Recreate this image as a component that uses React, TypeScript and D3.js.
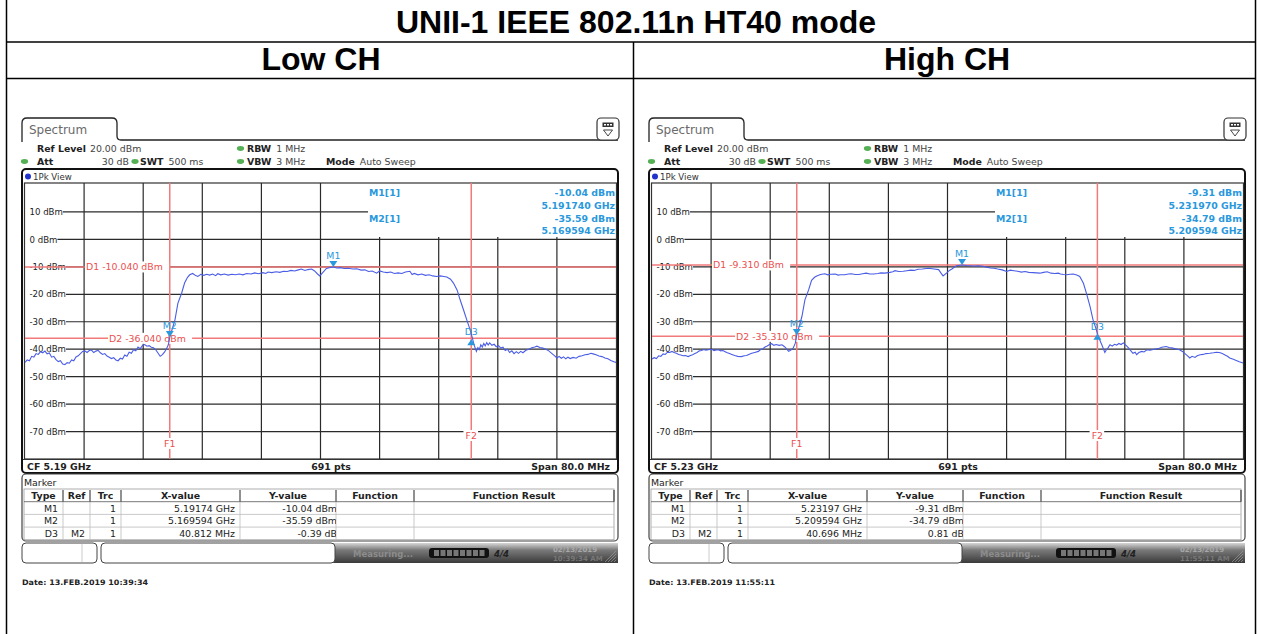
import React from 'react';
import * as d3 from 'd3';

const TITLE = 'UNII-1 IEEE 802.11n HT40 mode';
const CHANNEL_TITLES = ['Low CH', 'High CH'];
const LEVEL_TICKS = [10, 0, -10, -20, -30, -40, -50, -60, -70];
const FREQ_GRID = [8, 16, 24, 32, 40, 48, 56, 64, 72];
const TABLE_HEADERS = ['Type', 'Ref', 'Trc', 'X-value', 'Y-value', 'Function', 'Function Result'];

// trace: [MHz from start of span, level dBm]
const LOW_TRACE: [number, number][] = [
  [0, -44.8], [0.3, -43.9], [0.6, -44.2], [0.9, -42.6], [1.2, -42.9], [1.5, -41.6], [1.8, -41.9], [2.1, -40.9], [2.4, -41.3], [2.7, -40.7],
  [3, -41.7], [3.3, -41.4], [3.6, -42.9], [3.9, -42.6], [4.2, -43.8], [4.5, -44.5], [4.8, -44.2], [5.1, -45.4], [5.4, -45.6], [5.7, -44.9],
  [6, -45.1], [6.3, -43.9], [6.6, -44.2], [6.9, -42.8], [7.2, -42.4], [7.5, -41.6], [7.8, -40.8], [8.1, -40.6], [8.4, -41.2], [8.7, -40.5],
  [9, -40.3], [9.3, -41.2], [9.6, -40.7], [9.9, -40.4], [10.2, -41.3], [10.5, -41.9], [10.8, -41.6], [11.1, -42.5], [11.4, -42.9], [11.7, -43.4],
  [12, -43.1], [12.3, -43.9], [12.6, -44.2], [12.9, -43.3], [13.2, -43.6], [13.5, -42.1], [13.8, -42.6], [14.1, -41.1], [14.4, -41.5], [14.7, -40.2],
  [15, -40.6], [15.3, -39.2], [15.6, -39.8], [15.9, -38.6], [16.2, -38.3], [16.5, -38.9], [16.8, -38.7], [17.1, -39.3], [17.4, -39.5], [17.7, -40.2],
  [18, -41.4], [18.3, -42.6], [18.6, -42], [18.9, -41], [19.2, -39.6], [19.4, -38.4], [19.6, -35.6], [20, -32], [20.3, -29.3], [20.7, -23.2],
  [21.2, -19.6], [21.6, -15.9], [22.0, -13.8], [22.3, -12.9], [22.7, -12.4], [23.1, -13.2], [23.4, -13.5], [23.8, -12.7], [24.2, -13.1], [24.6, -12.7],
  [25, -13], [25.4, -12.6], [25.8, -13.2], [26.1, -12.5], [26.5, -12.9], [27, -12.6], [27.5, -13], [28, -12.7], [28.5, -12.9], [29, -12.6],
  [29.5, -12.9], [30, -12.4], [30.6, -12.6], [31.1, -12.2], [31.6, -12.5], [32.2, -12.1], [32.6, -12.4], [32.9, -11.9], [33.4, -12.1], [34, -11.8],
  [34.5, -12], [35, -11.6], [35.5, -11.7], [36, -11.3], [36.5, -11.5], [37, -11.1], [37.4, -10.8], [37.9, -11.3], [38.3, -11], [38.8, -10.8],
  [39.2, -11.5], [39.6, -12.6], [39.9, -13.3], [40.3, -12.1], [40.8, -10.6], [41.2, -10.3], [41.74, -10.04], [42.2, -10.4], [42.7, -10.3], [43.2, -10.6],
  [43.7, -10.5], [44.4, -10.8], [44.9, -10.7], [45.5, -11.2], [46, -11.1], [46.5, -11.7], [47, -11.5], [47.6, -12.3], [48, -11.5], [48.5, -11.9],
  [49, -12.1], [49.5, -11.9], [50, -12.4], [50.5, -12.2], [51, -12.4], [51.5, -11.9], [52.1, -11.6], [52.4, -12.8], [52.7, -12.4], [53.2, -12.9],
  [53.7, -12.6], [54.2, -13.1], [54.7, -12.9], [55.2, -13.3], [55.7, -13.5], [56.2, -13.3], [56.7, -13.5], [57.1, -13.7], [57.6, -14.5], [58, -15.9],
  [58.5, -18.5], [58.9, -22], [59.4, -26], [59.8, -29.3], [60.2, -32.5], [60.5, -35.3], [60.8, -38.5], [61.1, -40.8], [61.3, -39.4], [61.5, -40.1],
  [61.7, -38.4], [61.9, -39.2], [62.1, -37.9], [62.3, -38.8], [62.5, -37.6], [62.7, -38.5], [62.9, -37.7], [63.2, -38.6], [63.5, -38.2], [63.8, -39.1],
  [64.1, -38.7], [64.4, -39.6], [64.7, -39.3], [65, -40.5], [65.3, -40], [65.6, -41.2], [65.9, -40.6], [66.2, -41.6], [66.5, -40.9], [66.8, -41.5],
  [67.1, -40.8], [67.4, -41.3], [67.8, -40.4], [68.2, -40], [68.6, -39.5], [69, -39.2], [69.3, -38.9], [69.7, -39.4], [70.1, -39.6], [70.5, -40],
  [70.9, -40.6], [71.3, -41.5], [71.7, -42.4], [72, -43.2], [72.3, -42.6], [72.6, -43.3], [72.9, -42.8], [73.2, -43.5], [73.5, -42.9], [73.8, -43.4],
  [74.2, -43], [74.6, -43.3], [75, -42.6], [75.4, -42.4], [75.8, -42], [76.2, -41.9], [76.6, -41.5], [76.9, -41.7], [77.3, -42], [77.7, -42.5],
  [78.1, -42.7], [78.5, -43.2], [78.9, -43.5], [79.3, -44.1], [79.7, -44.6], [80, -44.8],
];

const HIGH_TRACE: [number, number][] = [
  [0, -43.6], [0.3, -43.1], [0.6, -43.4], [0.9, -42.4], [1.2, -42.6], [1.5, -41.7], [1.8, -41.9], [2.1, -41.1], [2.4, -41.2], [2.7, -40.8],
  [3, -41.2], [3.3, -41.5], [3.6, -41.9], [3.9, -42.1], [4.2, -42.4], [4.5, -42.3], [4.9, -42.7], [5.2, -42.3], [5.5, -42], [5.8, -41.6],
  [6.1, -41.2], [6.4, -40.6], [6.7, -40.5], [7, -40.1], [7.3, -40.4], [7.6, -40.2], [8.1, -40], [8.4, -40.5], [8.7, -40.3], [9, -40.2],
  [9.3, -40.6], [9.6, -40.5], [9.9, -40.9], [10.2, -41.3], [10.5, -41.6], [10.8, -41.9], [11.2, -42.3], [11.6, -42.6], [12.1, -42.7], [12.5, -42.4],
  [12.8, -42.3], [13.1, -41.9], [13.5, -41.5], [13.9, -41.2], [14.4, -40.8], [14.7, -40.1], [15, -39.8], [15.3, -39.2], [15.6, -38.8], [15.9, -38.3],
  [16.2, -38], [16.5, -38.6], [16.8, -38.3], [17.2, -38.6], [17.6, -38.4], [17.9, -39], [18.1, -39.5], [18.3, -40.2], [18.5, -40.8], [18.8, -40.3],
  [19.1, -39.6], [19.4, -37.8], [19.6, -34.8], [20, -31], [20.3, -28], [20.7, -22], [21.2, -18.4], [21.6, -14.9], [22, -13.8], [22.3, -13.3],
  [22.8, -12.8], [23.4, -12.5], [23.8, -12.9], [24.2, -12.7], [24.8, -12.6], [25.2, -13], [25.5, -12.9], [26.1, -12.9], [26.6, -12.6], [27, -12.5],
  [27.5, -12.8], [28, -12.8], [28.5, -12.5], [29, -12.3], [29.5, -12.6], [30, -12.6], [30.6, -12.4], [31, -12.2], [31.5, -12.3], [32.2, -12],
  [32.6, -11.8], [32.9, -11.4], [33.4, -11.7], [34, -11.6], [34.5, -11.4], [35, -11.2], [35.5, -11.3], [36, -10.9], [36.6, -10.8], [37.4, -10.5],
  [38.2, -10.8], [38.8, -11], [39.1, -12.2], [39.4, -13.3], [39.9, -12.2], [40.3, -11.2], [40.6, -10.8], [41.2, -9.6], [41.97, -9.31], [42.6, -9.5],
  [43.1, -9.6], [43.5, -9.7], [44.2, -9.6], [44.8, -9.8], [45.3, -10.1], [45.8, -10.4], [46.3, -10.5], [46.8, -10.8], [47.4, -11.1], [48, -11.7],
  [48.5, -11.2], [49, -11.4], [49.5, -11.6], [50, -11.9], [50.5, -11.7], [51, -12], [51.6, -12.1], [52.5, -12.3], [53, -12], [53.5, -11.8],
  [54, -12.3], [54.5, -12.4], [55, -12.3], [55.3, -12.6], [55.7, -12.8], [56.1, -12.9], [56.6, -12.7], [57, -12.6], [57.5, -13], [57.9, -13.5],
  [58.4, -16], [58.8, -19.6], [59.3, -24.5], [59.7, -29.3], [60.1, -32.5], [60.4, -35.3], [60.9, -38.5], [61.3, -41.2], [61.5, -40.2], [61.7, -39.6],
  [62, -38.4], [62.3, -38.9], [62.6, -38.2], [62.9, -38.5], [63.2, -37.9], [63.5, -38.3], [63.8, -37.7], [64.1, -38.4], [64.5, -39.5], [64.8, -40.5],
  [65.1, -41.5], [65.4, -41.1], [65.6, -42], [65.9, -41.2], [66.3, -40.8], [66.6, -41], [67, -40.2], [67.4, -40.4], [68, -40], [68.5, -39.8],
  [69, -39.3], [69.6, -39], [70, -39.4], [70.5, -39.6], [71, -39.9], [71.4, -40.2], [71.8, -40.8], [72.1, -41.5], [72.5, -42.4], [72.8, -43.2],
  [73.1, -42.6], [73.5, -43], [73.8, -42.4], [74.2, -42], [74.6, -41.9], [75, -41.6], [75.5, -41.5], [76, -41.3], [76.4, -41.1], [76.8, -41.2],
  [77.2, -41.6], [77.5, -42], [77.9, -42.6], [78.2, -43.2], [78.6, -43.6], [79, -44], [79.5, -44.6], [80, -45],
];

const LOW_M1: [number, number] = [41.74, -10.04];
const LOW_M2: [number, number] = [19.594, -35.59];
const LOW_D3: [number, number] = [60.406, -35.98];
const HIGH_M1: [number, number] = [41.97, -9.31];
const HIGH_M2: [number, number] = [19.594, -34.79];
const HIGH_D3: [number, number] = [60.29, -33.98];

const LOW_LINES = { d1: -10.04, d2: -36.04, f1: 19.594, f2: 60.406 };
const HIGH_LINES = { d1: -9.31, d2: -35.31, f1: 19.594, f2: 60.29 };

const LOW_INFO = ['-10.04 dBm', '5.191740 GHz', '-35.59 dBm', '5.169594 GHz'];
const HIGH_INFO = ['-9.31 dBm', '5.231970 GHz', '-34.79 dBm', '5.209594 GHz'];

const LOW_ROWS = [
  ['M1', '', '1', '5.19174 GHz', '-10.04 dBm'],
  ['M2', '', '1', '5.169594 GHz', '-35.59 dBm'],
  ['D3', 'M2', '1', '40.812 MHz', '-0.39 dB'],
];
const HIGH_ROWS = [
  ['M1', '', '1', '5.23197 GHz', '-9.31 dBm'],
  ['M2', '', '1', '5.209594 GHz', '-34.79 dBm'],
  ['D3', 'M2', '1', '40.696 MHz', '0.81 dB'],
];

const PANELS = [
  { dx: 0, trace: LOW_TRACE, m1: LOW_M1, m2: LOW_M2, d3: LOW_D3, lines: LOW_LINES, info: LOW_INFO, rows: LOW_ROWS,
    cf: 'CF 5.19 GHz', d1Text: 'D1  -10.040 dBm', d2Text: 'D2  -36.040 dBm', date: 'Date: 13.FEB.2019  10:39:34', time: '10:39:34 AM' },
  { dx: 627, trace: HIGH_TRACE, m1: HIGH_M1, m2: HIGH_M2, d3: HIGH_D3, lines: HIGH_LINES, info: HIGH_INFO, rows: HIGH_ROWS,
    cf: 'CF 5.23 GHz', d1Text: 'D1  -9.310 dBm', d2Text: 'D2  -35.310 dBm', date: 'Date: 13.FEB.2019  11:55:11', time: '11:55:11 AM' },
];

const SF = 'DejaVu Sans, Verdana, sans-serif';
const MBLUE = '#2a98dc';
const RED = '#f27a7a';
const RED_TEXT = '#ea4f4f';
const TRACE = '#4a5de6';
const GREEN = '#55b055';

const CW: Record<string, number> = { '0': .636, '1': .636, '2': .636, '3': .636, '4': .636, '5': .636, '6': .636, '7': .636, '8': .636, '9': .636, ' ': .318, d: .635, B: .686, m: .974, '-': .361 };
const textW = (s: string, fs: number) => s.split('').reduce((a, c) => a + (CW[c] ?? .6), 0) * fs;

function Panel(p: any) {
  const x = d3.scaleLinear().domain([0, 80]).range([25, 616]);
  const y = d3.scaleLinear().domain([-80, 20]).range([459, 184.5]);
  const line = d3.line<[number, number]>().x(d => x(d[0])).y(d => y(d[1]));
  const top = 183;
  const infoLeft = 368;
  const infoBottom = 237;
  const fs = 8.6;
  const fb = 9.4;
  const colX = [24, 63, 90, 121, 240, 336, 414, 614];
  const headerTop = 489, rowH = 12.7;
  const clipId = 'yclip' + p.dx;
  const redLabel = (tx: number, ty: number, s: string, anchor: 'start' | 'middle' = 'start') => {
    const w = textW(s, fb) + 2;
    const x0 = anchor === 'middle' ? tx - w / 2 : tx;
    return (
      <g>
        <rect x={x0 - 1} y={ty - 5.5} width={w + 1} height={11} fill="#fff" />
        <text x={tx} y={ty + 3.4} fontSize={fb} fill={RED_TEXT} fontFamily={SF} textAnchor={anchor}>{s}</text>
      </g>
    );
  };
  const marker = (pt: [number, number], name: string, up = false) => {
    const px = x(pt[0]), py = y(pt[1]);
    return (
      <g>
        {up ? (
          <path d={`M${px},${py + 1} L${px - 4},${py + 7} L${px + 4},${py + 7} Z`} fill={MBLUE} />
        ) : (
          <path d={`M${px},${py} L${px - 4},${py - 6} L${px + 4},${py - 6} Z`} fill={MBLUE} />
        )}
        <text x={px} y={up ? py - 3 : py - 8} fontSize={fb} fill={MBLUE} fontFamily={SF} textAnchor="middle">{name}</text>
      </g>
    );
  };
  return (
    <g transform={`translate(${p.dx},0)`}>
      {/* tab */}
      <path d="M22,142 L22,123 Q22,118 27,118 L112,118 Q117,118 117,123 L117,136 Q117,140 121,140 L618,140" fill="none" stroke="#222" strokeWidth={1.3} />
      <text x={29} y={134} fontSize={12} fill="#6a6a6a" fontFamily={SF}>Spectrum</text>
      {/* icon */}
      <rect x={597} y={118} width={22} height={22} rx={4} fill="#fff" stroke="#333" strokeWidth={1.2} />
      <rect x={602.5} y={122.5} width={11} height={4.5} fill="#333" />
      <rect x={604} y={124} width={2} height={1.5} fill="#fff" />
      <rect x={607} y={124} width={2} height={1.5} fill="#fff" />
      <rect x={610} y={124} width={2} height={1.5} fill="#fff" />
      <path d="M603.5,130 L612.5,130 L608,136 Z" fill="none" stroke="#333" strokeWidth={0.9} />
      {/* params */}
      <g fontFamily={SF} fontSize={fb} fill="#222">
        <text x={37} y={151.5}><tspan fontWeight="bold">Ref Level</tspan><tspan dx={4} fill="#444">20.00 dBm</tspan></text>
        <ellipse cx={240.5} cy={148.5} rx={3.6} ry={2.4} fill={GREEN} />
        <text x={247} y={151.5}><tspan fontWeight="bold">RBW</tspan><tspan dx={5} fill="#444">1 MHz</tspan></text>
        <ellipse cx={24.5} cy={161.5} rx={3.6} ry={2.4} fill={GREEN} />
        <text x={37} y={164.5} fontWeight="bold">Att</text>
        <text x={129} y={164.5} textAnchor="end" fill="#444">30 dB</text>
        <ellipse cx={135} cy={161.5} rx={3.6} ry={2.4} fill={GREEN} />
        <text x={140} y={164.5}><tspan fontWeight="bold">SWT</tspan><tspan dx={5} fill="#444">500 ms</tspan></text>
        <ellipse cx={240.5} cy={161.5} rx={3.6} ry={2.4} fill={GREEN} />
        <text x={247} y={164.5}><tspan fontWeight="bold">VBW</tspan><tspan dx={5} fill="#444">3 MHz</tspan></text>
        <text x={326} y={164.5}><tspan fontWeight="bold">Mode</tspan><tspan dx={5} fill="#444">Auto Sweep</tspan></text>
      </g>
      {/* frame */}
      <rect x={22} y={169} width={596} height={304} rx={4} fill="#fff" stroke="#111" strokeWidth={2} />
      <circle cx={28} cy={176.5} r={3} fill="#2233cc" />
      <text x={33} y={180} fontSize={fs} fill="#333" fontFamily={SF}>1Pk View</text>
      <rect x={24.5} y={top} width={592} height={459 - top} fill="#fff" stroke="#333" strokeWidth={1.2} />
      {/* vertical grid */}
      {FREQ_GRID.map(v => (
        <line key={v} x1={x(v)} x2={x(v)} y1={x(v) > infoLeft ? infoBottom : top} y2={459} stroke="#2a2a2a" strokeWidth={1.2} />
      ))}
      {/* horizontal grid + labels */}
      {LEVEL_TICKS.map(v => {
        const s = `${v} dBm`;
        const x0 = 29.5 + textW(s, fs);
        return (
          <g key={v}>
            <line x1={x0} x2={v === 10 ? infoLeft : 616} y1={y(v)} y2={y(v)} stroke="#2a2a2a" strokeWidth={1.2} />
            <text x={29.5} y={y(v) + 3.1} fontSize={fs} fill="#222" fontFamily={SF}>{s}</text>
          </g>
        );
      })}
      {/* display / frequency lines */}
      <line x1={25} x2={616} y1={y(p.lines.d1)} y2={y(p.lines.d1)} stroke={RED} strokeWidth={1.5} />
      <line x1={25} x2={616} y1={y(p.lines.d2)} y2={y(p.lines.d2)} stroke={RED} strokeWidth={1.5} />
      <line x1={x(p.lines.f1)} x2={x(p.lines.f1)} y1={top} y2={459} stroke={RED} strokeWidth={1.5} />
      <line x1={x(p.lines.f2)} x2={x(p.lines.f2)} y1={top} y2={459} stroke={RED} strokeWidth={1.5} />
      {redLabel(86, y(p.lines.d1), p.d1Text)}
      {redLabel(109, y(p.lines.d2), p.d2Text)}
      {redLabel(x(p.lines.f1), 443.5, 'F1', 'middle')}
      {redLabel(x(p.lines.f2), 435.5, 'F2', 'middle')}
      {/* marker info */}
      <g fontFamily={SF} fontSize={fb} fontWeight="bold" fill={MBLUE}>
        <text x={369} y={196}>M1[1]</text>
        <text x={369} y={221.5}>M2[1]</text>
        <text x={615} y={196} textAnchor="end">{p.info[0]}</text>
        <text x={615} y={208.5} textAnchor="end">{p.info[1]}</text>
        <text x={615} y={221.5} textAnchor="end">{p.info[2]}</text>
        <text x={615} y={234} textAnchor="end">{p.info[3]}</text>
      </g>
      {/* trace */}
      <path d={line(p.trace) || ''} fill="none" stroke={TRACE} strokeWidth={1.1} />
      {marker(p.m1, 'M1')}
      {marker(p.m2, 'M2')}
      {marker(p.d3, 'D3', true)}
      {/* bottom bar */}
      <line x1={23} x2={617} y1={459.5} y2={459.5} stroke="#333" strokeWidth={1.2} />
      <g fontFamily={SF} fontSize={fb} fontWeight="bold" fill="#222">
        <text x={27} y={469.5}>{p.cf}</text>
        <text x={331} y={469.5} textAnchor="middle">691 pts</text>
        <text x={610} y={469.5} textAnchor="end">Span 80.0 MHz</text>
      </g>
      {/* marker table */}
      <rect x={22} y={474} width={596} height={67} rx={4} fill="#fff" stroke="#444" strokeWidth={1.2} />
      <text x={24} y={485.5} fontSize={fb} fill="#222" fontFamily={SF}>Marker</text>
      <defs>
        <clipPath id={clipId}><rect x={240} y={headerTop} width={96} height={60} /></clipPath>
      </defs>
      <rect x={24} y={headerTop} width={590} height={rowH * 4} fill="#fff" stroke="#999" strokeWidth={0.8} />
      {[1, 2, 3].map(i => (
        <line key={i} x1={24} x2={614} y1={headerTop + rowH * i} y2={headerTop + rowH * i} stroke={i === 1 ? '#555' : '#bbb'} strokeWidth={0.8} />
      ))}
      {colX.slice(1, -1).map((cx, i) => (
        <g key={i}>
          <line x1={cx} x2={cx} y1={headerTop + 1} y2={headerTop + rowH} stroke="#222" strokeWidth={1} />
          <line x1={cx} x2={cx} y1={headerTop + rowH} y2={headerTop + rowH * 4} stroke="#bbb" strokeWidth={0.8} />
        </g>
      ))}
      <line x1={614} x2={614} y1={headerTop + 1} y2={headerTop + rowH} stroke="#222" strokeWidth={1} />
      {TABLE_HEADERS.map((h, i) => (
        <text key={h} x={(colX[i] + colX[i + 1]) / 2} y={headerTop + 10} fontSize={fb} fontWeight="bold" fill="#222" fontFamily={SF} textAnchor="middle">{h}</text>
      ))}
      {p.rows.map((r: string[], ri: number) => (
        <g key={ri} fontFamily={SF} fontSize={fb} fill="#222">
          {r.map((c, ci) => (
            <text key={ci} x={colX[ci + 1] - (ci === 4 ? -1 : 5)} y={headerTop + rowH * (ri + 1) + 9.8} textAnchor="end" clipPath={ci === 4 ? `url(#${clipId})` : undefined}>{c}</text>
          ))}
        </g>
      ))}
      {/* status bar */}
      <defs>
        <linearGradient id={'sb' + p.dx} x1="0" y1="0" x2="0" y2="1">
          <stop offset="0" stopColor="#d6d6d6" />
          <stop offset="0.35" stopColor="#7a7a7a" />
          <stop offset="1" stopColor="#3a3a3a" />
        </linearGradient>
      </defs>
      <rect x={330} y={543} width={288} height={20} fill={`url(#sb${p.dx})`} />
      <rect x={22} y={543} width={75} height={20} rx={4} fill="#fff" stroke="#444" strokeWidth={1} />
      <line x1={82} x2={82} y1={544} y2={562} stroke="#ccc" strokeWidth={1} />
      <rect x={101} y={543} width={234} height={20} rx={4} fill="#fff" stroke="#444" strokeWidth={1} />
      <text x={353} y={557} fontSize={8.5} fill="#8c8c8c" fontWeight="bold" fontFamily={SF}>Measuring...</text>
      <rect x={429} y={548} width={60} height={10} rx={3} fill="#111" />
      {[0, 1, 2, 3, 4, 5, 6, 7].map(i => (
        <rect key={i} x={434 + i * 6.5} y={550} width={5} height={6} fill="#777" />
      ))}
      <text x={494} y={557} fontSize={8.5} fill="#222" fontStyle="italic" fontWeight="bold" fontFamily={SF}>4/4</text>
      <text x={553} y={552} fontSize={7} fill="#a8a8a8" fontWeight="bold" fontFamily={SF}>02/13/2019</text>
      <text x={553} y={561} fontSize={7} fill="#777" fontWeight="bold" fontFamily={SF}>{p.time}</text>
      {[0, 1, 2, 3].map(i => (
        <line key={i} x1={605 + i * 3} y1={562} x2={616} y2={551 + i * 3} stroke="#999" strokeWidth={0.7} />
      ))}
      <text x={22} y={585} fontSize={7.5} fontWeight="bold" fill="#222" fontFamily={SF} textLength={126} lengthAdjust="spacingAndGlyphs">{p.date}</text>
    </g>
  );
}

export default function App() {
  return (
    <svg width={1261} height={634} style={{ position: 'absolute', left: 0, top: 0, display: 'block', background: '#fff' }}>
      <rect x={0} y={0} width={1261} height={634} fill="#fff" />
      {PANELS.map(p => <Panel key={p.dx} {...p} />)}
      {/* table borders */}
      <g stroke="#000" strokeWidth={1.5}>
        <line x1={6.5} x2={6.5} y1={0} y2={634} />
        <line x1={1255.5} x2={1255.5} y1={0} y2={634} />
        <line x1={6} x2={1256} y1={42} y2={42} />
        <line x1={6} x2={1256} y1={78.5} y2={78.5} />
        <line x1={633.5} x2={633.5} y1={42} y2={634} />
      </g>
      <g fontFamily="Liberation Sans, Arial, sans-serif" fontWeight="bold" fontSize={32} fill="#000" textAnchor="middle">
        <text x={636} y={33}>{TITLE}</text>
        <text x={321} y={70}>{CHANNEL_TITLES[0]}</text>
        <text x={947} y={70}>{CHANNEL_TITLES[1]}</text>
      </g>
    </svg>
  );
}
